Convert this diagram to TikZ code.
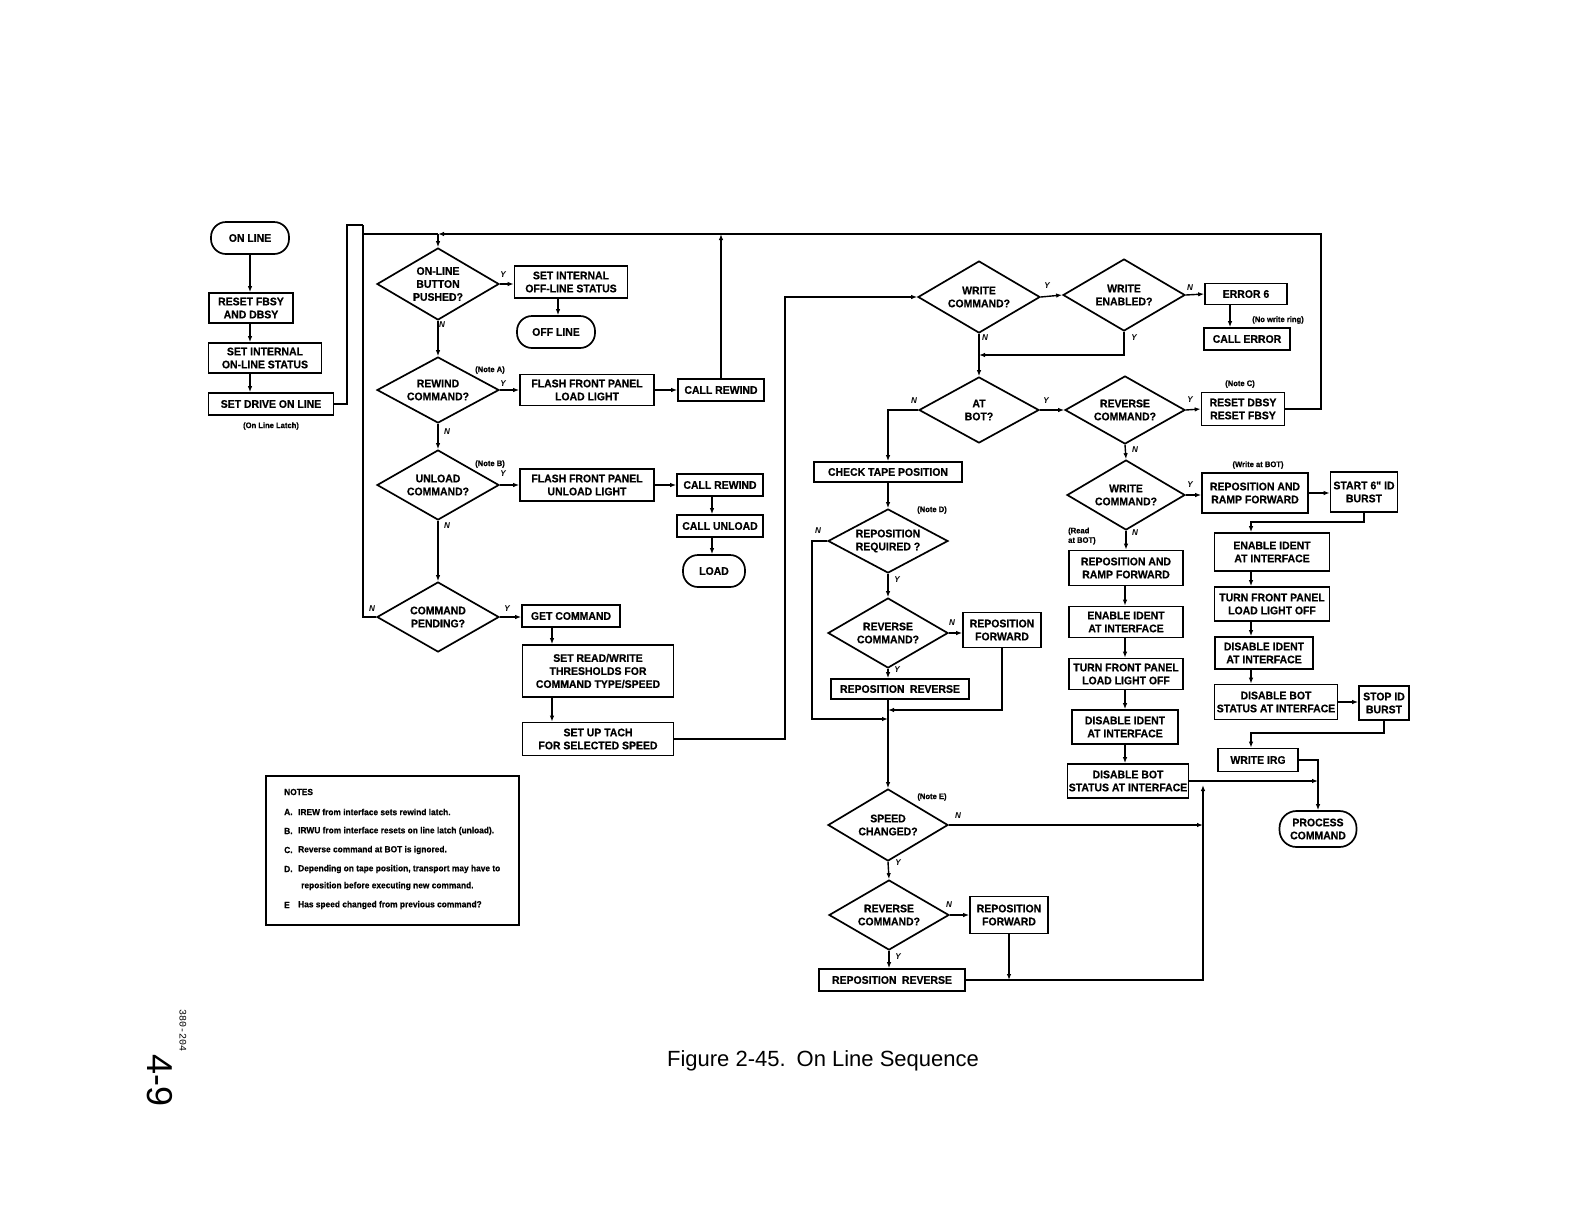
\documentclass[tikz,border=0pt]{standalone}
\usepackage{fontspec}
\setmainfont{Liberation Sans}
\newfontfamily\bxf{Liberation Sans}[FakeStretch=0.95, BoldFeatures={FakeBold=0.6}]
\newfontfamily\monof{Liberation Mono}
\usetikzlibrary{shapes.geometric,arrows.meta}
\newcommand\bxfont{\bxf\bfseries\fontsize{11}{13}\selectfont}
\newcommand\ynfont{\bxf\bfseries\itshape\fontsize{8.5}{10}\selectfont}
\newcommand\ntfont{\bxf\bfseries\fontsize{8}{9.5}\selectfont}
\newcommand\notesfont{\bxf\bfseries\fontsize{8.8}{10}\selectfont}
\tikzset{
 box/.style={draw, line width=1.7pt, inner sep=1pt, font=\bxfont, align=center},
 dia/.style={draw, diamond, aspect=1.8, line width=1.7pt, inner sep=0pt, font=\bxfont, align=center, minimum width=122pt, minimum height=70pt},
 term/.style={draw, rounded corners=15pt, line width=1.7pt, font=\bxfont, align=center, inner sep=1pt},
 conn/.style={line width=1.4pt},
 arr/.style={conn, -{Latex[length=6pt,width=4.5pt]}},
 yn/.style={font=\ynfont, inner sep=0pt},
 nlab/.style={font=\ntfont, inner sep=0pt},
 ntxt/.style={font=\notesfont, inner sep=0pt, anchor=west},
}
\begin{document}
\begin{tikzpicture}[x=1pt,y=-1pt]
\fill[white] (0,0) rectangle (1578,1224);
\useasboundingbox (0,0) rectangle (1578,1224);

% ---------- left column ----------
\node[term, minimum width=78pt, minimum height=32pt] (online) at (250,238) {ON LINE};
\node[box, minimum width=84pt, minimum height=30pt] (rfbsy) at (251,308) {RESET FBSY\\AND DBSY};
\node[box, minimum width=113pt, minimum height=30pt] (sint) at (265,358) {SET INTERNAL\\ON-LINE STATUS};
\node[box, minimum width=125pt, minimum height=22pt] (drive) at (271,404) {SET DRIVE ON LINE};
\node[nlab] (latch) at (271,426) {(On Line Latch)};
\coordinate (xl) at (250,0);
\draw[arr] (online.south -| xl) -- (rfbsy.north -| xl);
\draw[arr] (rfbsy.south -| xl) -- (sint.north -| xl);
\draw[arr] (sint.south -| xl) -- (drive.north -| xl);

% ---------- middle column ----------
\node[dia, minimum height=72pt] (onlbtn) at (438,284) {ON-LINE\\BUTTON\\PUSHED?};
\node[box, minimum width=113pt, minimum height=32pt] (soff) at (571,282) {SET INTERNAL\\OFF-LINE STATUS};
\node[term, minimum width=78pt, minimum height=32pt] (offline) at (556,332) {OFF LINE};
\node[dia, minimum height=66pt] (rewcmd) at (438,390) {REWIND\\COMMAND?};
\node[box, minimum width=134pt, minimum height=31pt] (flash1) at (587,390) {FLASH FRONT PANEL\\LOAD LIGHT};
\node[box, minimum width=86pt, minimum height=22pt] (callrew1) at (721,390) {CALL REWIND};
\node[dia] (unlcmd) at (438,485) {UNLOAD\\COMMAND?};
\node[box, minimum width=134pt, minimum height=32pt] (flash2) at (587,485) {FLASH FRONT PANEL\\UNLOAD LIGHT};
\node[box, minimum width=86pt, minimum height=22pt] (callrew2) at (720,485) {CALL REWIND};
\node[box, minimum width=86pt, minimum height=22pt] (callunl) at (720,526) {CALL UNLOAD};
\node[term, minimum width=62pt, minimum height=32pt] (load) at (714,571) {LOAD};
\node[dia] (pend) at (438,617) {COMMAND\\PENDING?};
\node[box, minimum width=98pt, minimum height=22pt] (getcmd) at (571,616) {GET COMMAND};
\node[box, minimum width=151pt, minimum height=52pt] (thresh) at (598,671) {SET READ/WRITE\\THRESHOLDS FOR\\COMMAND TYPE/SPEED};
\node[box, minimum width=151pt, minimum height=33pt] (tach) at (598,739) {SET UP TACH\\FOR SELECTED SPEED};

\coordinate (tl1) at (347,225);
\coordinate (tl2) at (363,225);
\coordinate (tl3) at (363,234);
\coordinate (tr) at (1321,234);
\coordinate (xo) at (558,0);
\coordinate (xm) at (552,0);
\coordinate (xc) at (712,0);
\draw[conn] (drive.east) -| (tl1) -- (tl2);
\draw[conn] (pend.west) -| (tl2);
\draw[conn] (tl3) -- (onlbtn.north |- tl3);
\draw[arr] (onlbtn.north |- tl3) -- (onlbtn.north);
\draw[arr] (callrew1.north) -- (callrew1.north |- tr);
\draw[arr] (onlbtn.east) -- (onlbtn.east -| soff.west);
\draw[arr] (soff.south -| xo) -- (offline.north -| xo);
\draw[arr] (onlbtn.south) -- (rewcmd.north);
\draw[arr] (rewcmd.east) -- (rewcmd.east -| flash1.west);
\draw[arr] (flash1.east) -- (flash1.east -| callrew1.west);
\draw[arr] (rewcmd.south) -- (unlcmd.north);
\draw[arr] (unlcmd.east) -- (unlcmd.east -| flash2.west);
\draw[arr] (flash2.east) -- (flash2.east -| callrew2.west);
\draw[arr] (callrew2.south -| xc) -- (callunl.north -| xc);
\draw[arr] (callunl.south -| xc) -- (load.north -| xc);
\draw[arr] (unlcmd.south) -- (pend.north);
\draw[arr] (pend.east) -- (pend.east -| getcmd.west);
\draw[arr] (getcmd.south -| xm) -- (thresh.north -| xm);
\draw[arr] (thresh.south -| xm) -- (tach.north -| xm);

\node[yn] at (503,275) {Y};
\node[yn] at (442,325) {N};
\node[nlab] at (490,370) {(Note A)};
\node[yn] at (503,384) {Y};
\node[yn] at (447,432) {N};
\node[nlab] at (490,464) {(Note B)};
\node[yn] at (503,474) {Y};
\node[yn] at (447,526) {N};
\node[yn] at (372,609) {N};
\node[yn] at (507,609) {Y};

% ---------- centre ----------
\node[dia, minimum height=72pt] (wcmd) at (979,297) {WRITE\\COMMAND?};
\node[dia, minimum height=72pt] (wen) at (1124,295) {WRITE\\ENABLED?};
\node[box, minimum width=82pt, minimum height=21pt] (err6) at (1246,294) {ERROR 6};
\node[box, minimum width=86pt, minimum height=22pt] (callerr) at (1247,339) {CALL ERROR};
\node[dia, minimum width=120pt, minimum height=66pt] (atbot) at (979,410) {AT\\BOT?};
\node[dia, minimum width=120pt, minimum height=68pt] (rev0) at (1125,410) {REVERSE\\COMMAND?};
\node[box, minimum width=83pt, minimum height=33pt] (rdbsy) at (1243,409) {RESET DBSY\\RESET FBSY};
\node[box, minimum width=148pt, minimum height=20pt] (chk) at (888,472) {CHECK TAPE POSITION};
\node[dia, minimum width=120pt, minimum height=64pt] (repreq) at (888,541) {REPOSITION\\REQUIRED ?};
\node[dia, minimum width=120pt] (rev1) at (888,633) {REVERSE\\COMMAND?};
\node[box, minimum width=78pt, minimum height=35pt] (rfwd1) at (1002,630) {REPOSITION\\FORWARD};
\node[box, minimum width=138pt, minimum height=20pt] (rrev1) at (900,689) {REPOSITION\enspace REVERSE};
\node[dia, minimum width=120pt, minimum height=72pt] (speed) at (888,825) {SPEED\\CHANGED?};
\node[dia, minimum width=120pt] (rev2) at (889,915) {REVERSE\\COMMAND?};
\node[box, minimum width=78pt, minimum height=37pt] (rfwd2) at (1009,915) {REPOSITION\\FORWARD};
\node[box, minimum width=146pt, minimum height=22pt] (rrev2) at (892,980) {REPOSITION\enspace REVERSE};

\coordinate (wl) at (785,297);
\coordinate (wj) at (979,355);
\coordinate (rl) at (812,719);
\coordinate (fj) at (888,710);
\coordinate (vx) at (1203,0);
\coordinate (vb) at (1203,785);
\coordinate (xe) at (1230,0);
\draw[arr] (rdbsy.east) -| (tr) -- (onlbtn.north |- tr);
\draw[arr] (tach.east) -| (wl) -- (wcmd.west);
\draw[arr] (wcmd.east) -- (wen.west);
\draw[arr] (wen.east) -- (err6.west);
\draw[arr] (err6.south -| xe) -- (callerr.north -| xe);
\draw[arr] (wcmd.south) -- (atbot.north);
\draw[arr] (wen.south) |- (wj);
\draw[arr] (atbot.west) -| (chk.north);
\draw[arr] (atbot.east) -- (rev0.west);
\draw[arr] (rev0.east) -- (rdbsy.west);
\draw[arr] (chk.south) -- (repreq.north);
\draw[arr] (repreq.west) -| (rl) -- (rl -| repreq.south);
\draw[arr] (repreq.south) -- (rev1.north);
\draw[arr] (rev1.east) -- (rev1.east -| rfwd1.west);
\draw[arr] (rev1.south) -- (rev1.south |- rrev1.north);
\draw[arr] (rfwd1.south) |- (fj);
\draw[arr] (speed.north |- rrev1.south) -- (speed.north);
\draw[arr] (speed.east) -- (speed.east -| vx);
\draw[arr] (speed.south) -- (rev2.north);
\draw[arr] (rev2.east) -- (rev2.east -| rfwd2.west);
\draw[arr] (rev2.south) -- (rev2.south |- rrev2.north);
\draw[arr] (rfwd2.south) -- (rfwd2.south |- rrev2.east);
\draw[arr] (rrev2.east) -| (vb);

\node[yn] at (1047,286) {Y};
\node[yn] at (1190,288) {N};
\node[nlab] at (1278,320) {(No write ring)};
\node[yn] at (985,338) {N};
\node[yn] at (1134,338) {Y};
\node[yn] at (914,401) {N};
\node[yn] at (1046,401) {Y};
\node[yn] at (1190,400) {Y};
\node[nlab] at (1240,384) {(Note C)};
\node[yn] at (1135,450) {N};
\node[nlab] at (932,510) {(Note D)};
\node[yn] at (818,531) {N};
\node[yn] at (897,580) {Y};
\node[yn] at (952,623) {N};
\node[yn] at (897,670) {Y};
\node[nlab] at (932,797) {(Note E)};
\node[yn] at (958,816) {N};
\node[yn] at (898,863) {Y};
\node[yn] at (949,905) {N};
\node[yn] at (898,957) {Y};

% ---------- right ----------
\node[dia, minimum width=118pt] (wcmd2) at (1126,495) {WRITE\\COMMAND?};
\node[box, minimum width=106pt, minimum height=40pt] (rpr) at (1255,493) {REPOSITION AND\\RAMP FORWARD};
\node[box, minimum width=67pt, minimum height=40pt] (start) at (1364,492) {START 6" ID\\BURST};
\node[box, minimum width=115pt, minimum height=38pt] (en2) at (1272,552) {ENABLE IDENT\\AT INTERFACE};
\node[box, minimum width=115pt, minimum height=34pt] (turn2) at (1272,604) {TURN FRONT PANEL\\LOAD LIGHT OFF};
\node[box, minimum width=98pt, minimum height=32pt] (dis2) at (1264,653) {DISABLE IDENT\\AT INTERFACE};
\node[box, minimum width=123pt, minimum height=35pt] (dbot2) at (1276,702) {DISABLE BOT\\STATUS AT INTERFACE};
\node[box, minimum width=50pt, minimum height=34pt] (stop) at (1384,703) {STOP ID\\BURST};
\node[box, minimum width=80pt, minimum height=23pt] (wirg) at (1258,760) {WRITE IRG};
\node[term, minimum width=77pt, minimum height=36pt, rounded corners=17pt] (proc) at (1318,829) {PROCESS\\COMMAND};

\node[box, minimum width=114pt, minimum height=35pt] (rpf1) at (1126,568) {REPOSITION AND\\RAMP FORWARD};
\node[box, minimum width=114pt, minimum height=31pt] (en1) at (1126,622) {ENABLE IDENT\\AT INTERFACE};
\node[box, minimum width=114pt, minimum height=31pt] (turn1) at (1126,674) {TURN FRONT PANEL\\LOAD LIGHT OFF};
\node[box, minimum width=106pt, minimum height=34pt] (dis1) at (1125,727) {DISABLE IDENT\\AT INTERFACE};
\node[box, minimum width=121pt, minimum height=34pt] (dbot1) at (1128,781) {DISABLE BOT\\STATUS AT INTERFACE};

\coordinate (xr) at (1251,0);
\coordinate (xq) at (1125,0);
\coordinate (sj) at (1251,522);
\coordinate (sj2) at (1251,733);
\draw[arr] (rev0.south) -- (wcmd2.north);
\draw[arr] (wcmd2.east) -- (wcmd2.east -| rpr.west);
\draw[arr] (rpr.east) -- (rpr.east -| start.west);
\draw[arr] (start.south) |- (sj) -- (en2.north -| xr);
\draw[arr] (en2.south -| xr) -- (turn2.north -| xr);
\draw[arr] (turn2.south -| xr) -- (dis2.north -| xr);
\draw[arr] (dis2.south -| xr) -- (dbot2.north -| xr);
\draw[arr] (dbot2.east) -- (dbot2.east -| stop.west);
\draw[arr] (stop.south) |- (sj2) -- (wirg.north -| xr);
\draw[arr] (wirg.east) -| (proc.north);
\draw[arr] (wcmd2.south) -- (wcmd2.south |- rpf1.north);
\draw[arr] (rpf1.south -| xq) -- (en1.north -| xq);
\draw[arr] (en1.south -| xq) -- (turn1.north -| xq);
\draw[arr] (turn1.south -| xq) -- (dis1.north -| xq);
\draw[arr] (dis1.south -| xq) -- (dbot1.north -| xq);
\draw[arr] (dbot1.east) -- (dbot1.east -| proc.north);

\node[nlab] at (1258,465) {(Write at BOT)};
\node[yn] at (1190,485) {Y};
\node[nlab, align=left, anchor=west] at (1068,536) {(Read\\at BOT)};
\node[yn] at (1135,533) {N};

% ---------- notes ----------
\node[draw, line width=1.4pt, minimum width=253pt, minimum height=149pt] (notes) at (392.5,850.5) {};
\node[ntxt] at (284,792) {NOTES};
\node[ntxt] at (284,812) {A.};
\node[ntxt] at (298,812) {IREW from interface sets rewind latch.};
\node[ntxt] at (284,831) {B.};
\node[ntxt] at (298,831) {IRWU from interface resets on line latch (unload).};
\node[ntxt] at (284,850) {C.};
\node[ntxt] at (298,850) {Reverse command at BOT is ignored.};
\node[ntxt] at (284,869) {D.};
\node[ntxt] at (298,869) {Depending on tape position, transport may have to};
\node[ntxt] at (301,886) {reposition before executing new command.};
\node[ntxt] at (284,905) {E};
\node[ntxt] at (298,905) {Has speed changed from previous command?};

% ---------- caption and margin marks ----------
\node[font=\fontsize{22}{26}\selectfont] (cap) at (823,1061) {Figure 2-45.\enspace On Line Sequence};
\node[font=\monof\fontsize{10}{11}\selectfont, rotate=-90] (code) at (183,1030) {380-204};
\node[font=\fontsize{36}{40}\selectfont, rotate=-90] (page) at (160,1080) {4-9};
\end{tikzpicture}
\end{document}
